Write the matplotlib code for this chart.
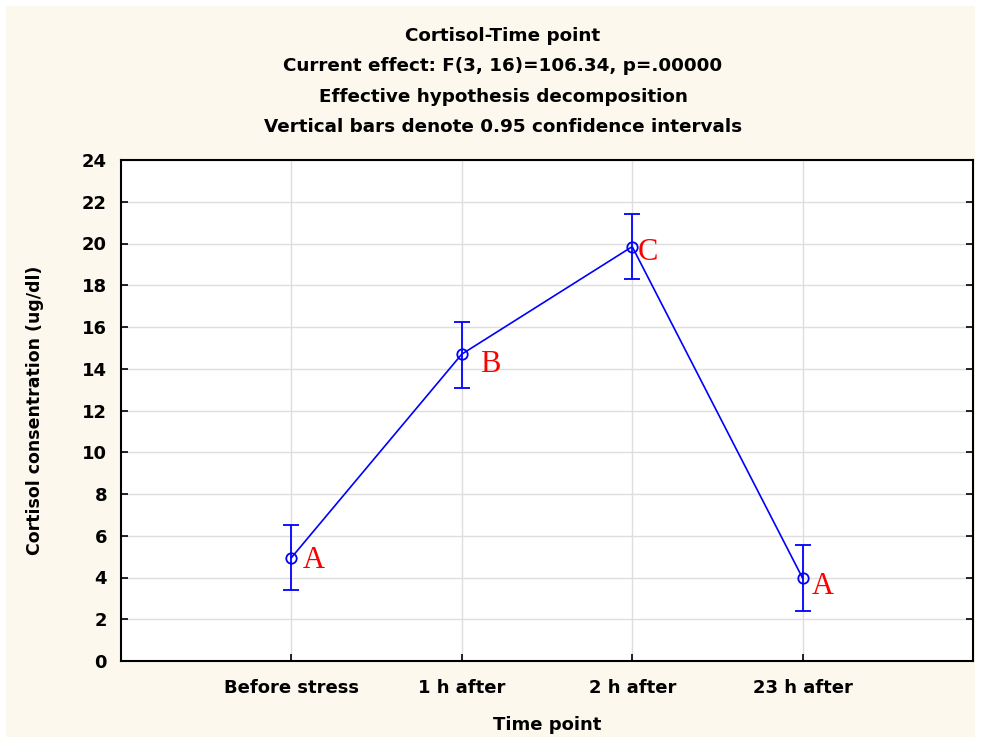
import matplotlib.pyplot as plt
from matplotlib.patches import Rectangle

time_points = ['Before stress', '1 h after', '2 h after', '23 h after']
cortisol_mean = [4.95, 14.7, 19.85, 3.97]
ci_low = [3.38, 13.1, 18.28, 2.38]
ci_high = [6.52, 16.25, 21.4, 5.55]
letters = ['A', 'B', 'C', 'A']

# letter offsets from the point, in pixels (right, down)
letter_dx = [11, 18, 6, 9]
letter_dy = [3, 10, 6, 8]

fig = plt.figure(figsize=(9.81, 7.43), dpi=100)
fig.patch.set_facecolor('white')
fig.patches.append(Rectangle((6 / 981, 6 / 743), 969 / 981, 731 / 743,
                             transform=fig.transFigure, facecolor='#fdf8ed',
                             edgecolor='none', zorder=-10))

ax = fig.add_axes([121 / 981, (743 - 661) / 743, 852 / 981, 501 / 743])
ax.set_facecolor('white')

x = [1, 2, 3, 4]
yerr = [[m - lo for m, lo in zip(cortisol_mean, ci_low)],
        [hi - m for m, hi in zip(cortisol_mean, ci_high)]]
ax.errorbar(x, cortisol_mean, yerr=yerr, color='#0000ff', lw=1.2,
            marker='o', ms=7.5, mfc='none', mec='#0000ff', mew=1.3,
            capsize=6, capthick=1.3, elinewidth=1.3, zorder=3)

for xi, yi, t, dx, dy in zip(x, cortisol_mean, letters, letter_dx, letter_dy):
    ax.annotate(t, (xi, yi), xytext=(dx * 0.72, -dy * 0.72), textcoords='offset points',
                color='red', fontsize=22, family='Liberation Serif',
                ha='left', va='center')

ax.set_xlim(0, 5)
ax.set_ylim(0, 24)
ax.set_xticks(x)
ax.set_xticklabels(time_points)
ax.set_yticks(range(0, 25, 2))
ax.grid(True, color='#dedede', lw=1)
ax.set_axisbelow(True)
ax.tick_params(direction='in', length=5, width=1.2, right=True,
               labelsize=13, pad=10)
for lab in ax.get_xticklabels() + ax.get_yticklabels():
    lab.set_fontweight('bold')
ax.tick_params(axis='x', pad=13)
for s in ax.spines.values():
    s.set_linewidth(1.5)

title_lines = ['Cortisol-Time point',
               'Current effect: F(3, 16)=106.34, p=.00000',
               'Effective hypothesis decomposition',
               'Vertical bars denote 0.95 confidence intervals']
for i, line in enumerate(title_lines):
    fig.text(503 / 981, 1 - (36 + 30.3 * i) / 743, line, ha='center', va='center',
             fontsize=13.2, fontweight='bold')

fig.text(35 / 981, 1 - 410 / 743, 'Cortisol consentration (ug/dl)', rotation=90,
         ha='center', va='center', fontsize=12.5, fontweight='bold')
fig.text(547 / 981, 1 - 725 / 743, 'Time point', ha='center', va='center',
         fontsize=13, fontweight='bold')

fig.savefig('out.png', dpi=100, facecolor=fig.get_facecolor())
